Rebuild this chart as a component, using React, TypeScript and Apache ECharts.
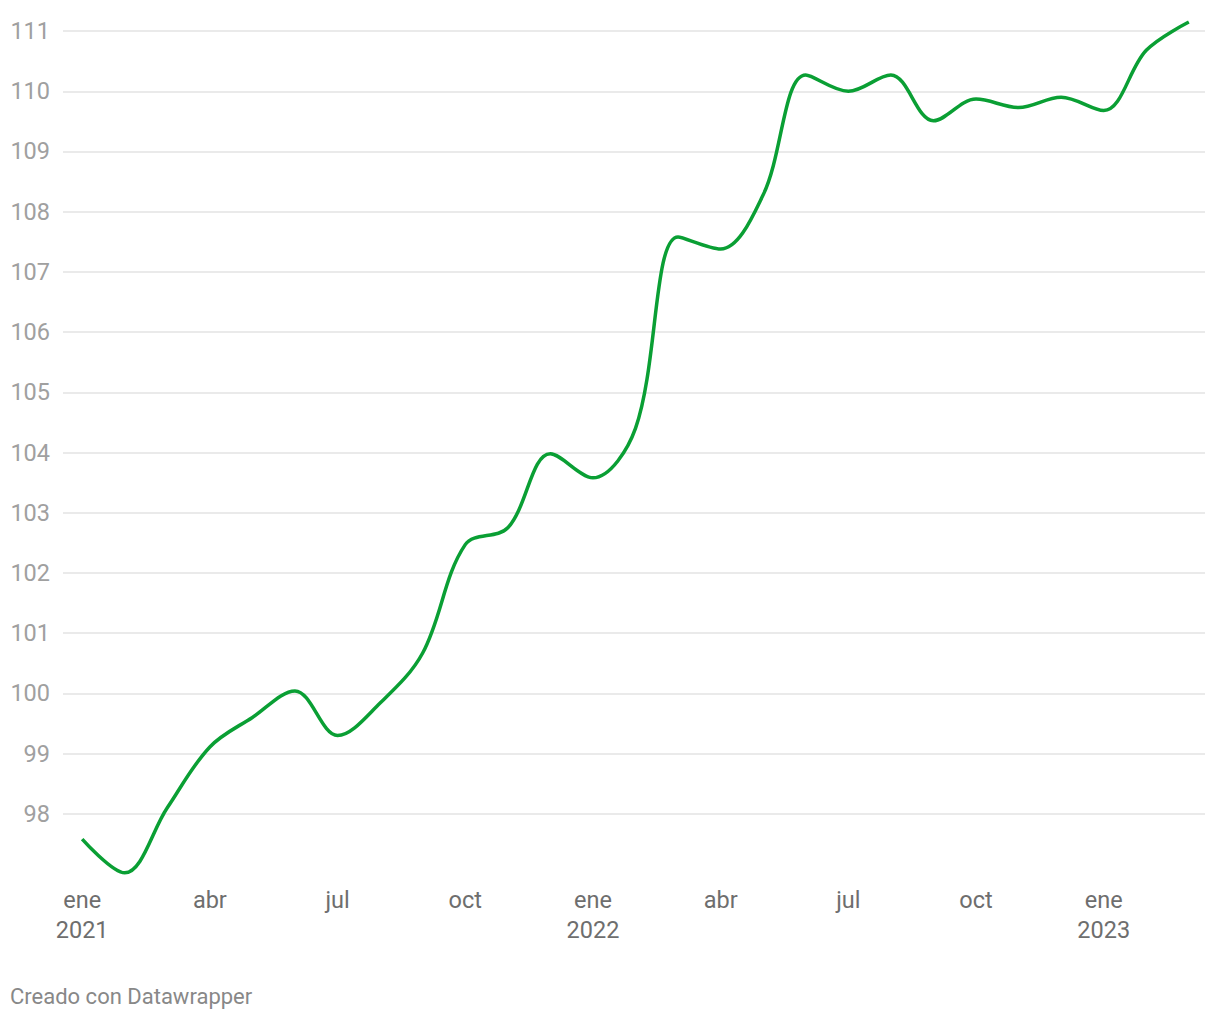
import React, { useEffect, useRef } from "react";
import * as echarts from "echarts";

const months = [
  "ene 2021", "feb 2021", "mar 2021", "abr 2021", "may 2021", "jun 2021",
  "jul 2021", "ago 2021", "sep 2021", "oct 2021", "nov 2021", "dic 2021",
  "ene 2022", "feb 2022", "mar 2022", "abr 2022", "may 2022", "jun 2022",
  "jul 2022", "ago 2022", "sep 2022", "oct 2022", "nov 2022", "dic 2022",
  "ene 2023", "feb 2023", "mar 2023",
];
const values = [
  97.58, 97.02, 98.1, 99.11, 99.6, 100.04,
  99.3, 99.84, 100.67, 102.47, 102.75, 103.98,
  103.58, 104.4, 107.58, 107.38, 108.28, 110.27,
  110.0, 110.27, 109.51, 109.87, 109.73, 109.9,
  109.68, 110.68, 111.15,
];
const yTicks = [98, 99, 100, 101, 102, 103, 104, 105, 106, 107, 108, 109, 110, 111];
const xTickIdx = [0, 3, 6, 9, 12, 15, 18, 21, 24];
const xTickLabels = ["ene\n2021", "abr", "jul", "oct", "ene\n2022", "abr", "jul", "oct", "ene\n2023"];

export default function App() {
  const ref = useRef<HTMLDivElement>(null);
  useEffect(() => {
    document.body.style.margin = "0";
    const chart = echarts.init(ref.current!, undefined, { renderer: "svg" });
    chart.setOption({
      animation: false,
      backgroundColor: "#ffffff",
      textStyle: { fontFamily: "Roboto" },
      grid: { left: 63, right: 15, top: 19, bottom: 140, containLabel: false },
      xAxis: {
        type: "value",
        min: -0.45,
        max: 26.38,
        axisLine: { show: false },
        axisTick: { show: false },
        splitLine: { show: false },
        axisLabel: {
          customValues: xTickIdx,
          formatter: (v: number) => {
            const i = xTickIdx.indexOf(Math.round(v));
            return i >= 0 ? xTickLabels[i] : "";
          },
          color: "#6e6e6e",
          fontSize: 23.5,
          lineHeight: 30,
          margin: 5,
          verticalAlign: "top",
          fontFamily: "Roboto",
        },
      },
      yAxis: {
        type: "value",
        min: 96.9,
        max: 111.2,
        axisLine: { show: false },
        axisTick: { show: false, customValues: yTicks },
        splitLine: { show: true, lineStyle: { color: "#e3e3e3", width: 1.5 } },
        axisLabel: {
          customValues: yTicks,
          color: "#a0a0a0",
          fontSize: 23.5,
          margin: 13,
          fontFamily: "Roboto",
        },
      },
      series: [
        {
          type: "line",
          data: values.map((v, i) => [i, v]),
          name: "Índice",
          showSymbol: false,
          smooth: 0.35,
          lineStyle: { color: "#0a9f34", width: 3.5 },
          itemStyle: { color: "#0a9f34" },
        },
      ],
      graphic: [
        {
          type: "text",
          left: 10,
          top: 985,
          style: { text: "Creado con Datawrapper", fill: "#888888", fontSize: 22, fontFamily: "Roboto" },
        },
      ],
    });
    return () => chart.dispose();
  }, []);
  return <div ref={ref} style={{ width: 1220, height: 1020 }} />;
}
